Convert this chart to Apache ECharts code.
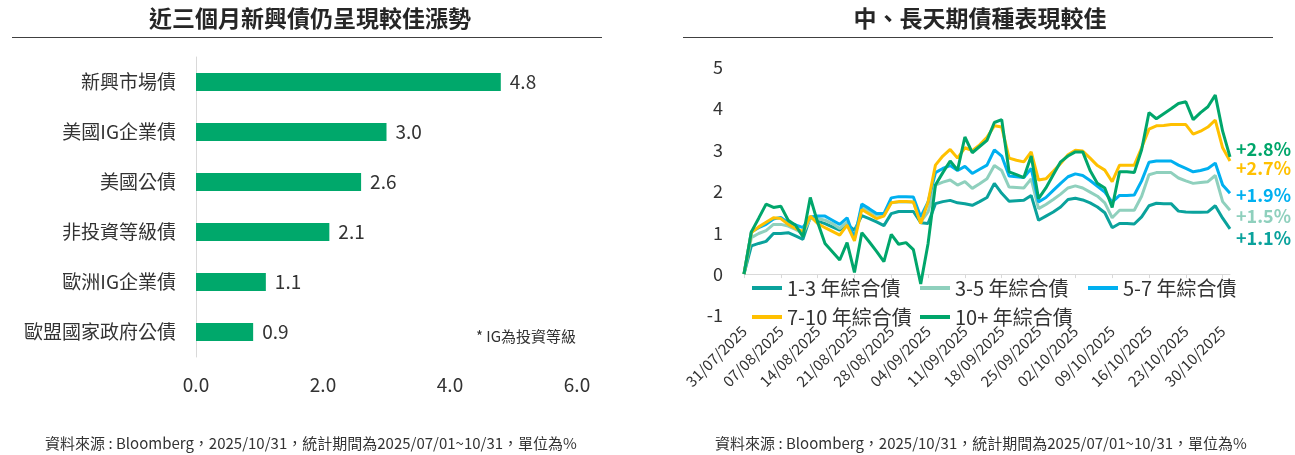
<!DOCTYPE html>
<html>
<head>
<meta charset="utf-8">
<style>
html, body { margin: 0; padding: 0; background: #fff; }
#main { width: 1295px; height: 455px; }
</style>
<script src="https://cdn.jsdelivr.net/npm/echarts@6/dist/echarts.min.js"></script>
</head>
<body>
<div id="main"></div>
<script>
// left chart: 3-month returns by bond type (%)
var barCats = ['新興市場債', '美國IG企業債', '美國公債', '非投資等級債', '歐洲IG企業債', '歐盟國家政府公債'];
var barVals = [4.8, 3.0, 2.6, 2.1, 1.1, 0.9];

// right chart: cumulative return by maturity (%)
var dates = [
  '31/07/2025',
  '01/08/2025', '04/08/2025', '05/08/2025', '06/08/2025', '07/08/2025', '08/08/2025', '11/08/2025', '12/08/2025',
  '13/08/2025', '14/08/2025', '15/08/2025', '18/08/2025', '19/08/2025', '20/08/2025', '21/08/2025', '22/08/2025',
  '25/08/2025', '26/08/2025', '27/08/2025', '28/08/2025', '29/08/2025',
  '01/09/2025', '02/09/2025', '03/09/2025', '04/09/2025', '05/09/2025', '08/09/2025', '09/09/2025', '10/09/2025',
  '11/09/2025', '12/09/2025', '15/09/2025', '16/09/2025', '17/09/2025', '18/09/2025', '19/09/2025', '22/09/2025',
  '23/09/2025', '24/09/2025', '25/09/2025', '26/09/2025', '29/09/2025', '30/09/2025',
  '01/10/2025', '02/10/2025', '03/10/2025', '06/10/2025', '07/10/2025', '08/10/2025', '09/10/2025', '10/10/2025',
  '13/10/2025', '14/10/2025', '15/10/2025', '16/10/2025', '17/10/2025', '20/10/2025', '21/10/2025', '22/10/2025',
  '23/10/2025', '24/10/2025', '27/10/2025', '28/10/2025', '29/10/2025', '30/10/2025', '31/10/2025'
];
var lineNames = ['1-3 年綜合債', '3-5 年綜合債', '5-7 年綜合債', '7-10 年綜合債', '10+ 年綜合債'];
var y1to3 = [0, 0.68, 0.74, 0.79, 0.98, 0.98, 1.00, 0.92, 0.84, 1.38, 1.28, 1.22, 1.14, 1.06, 1.20, 1.06, 1.41,
  1.34, 1.26, 1.17, 1.46, 1.51, 1.51, 1.51, 1.24, 1.22, 1.70, 1.75, 1.78, 1.72, 1.70, 1.66, 1.75, 1.85, 2.19,
  1.95, 1.76, 1.77, 1.78, 1.90, 1.30, 1.40, 1.50, 1.62, 1.80, 1.83, 1.79, 1.72, 1.62, 1.48, 1.12, 1.22, 1.22,
  1.21, 1.38, 1.65, 1.71, 1.70, 1.70, 1.52, 1.50, 1.49, 1.49, 1.50, 1.65, 1.35, 1.09];
var y3to5 = [0, 0.88, 0.98, 1.05, 1.20, 1.20, 1.16, 1.08, 0.98, 1.34, 1.34, 1.30, 1.22, 1.10, 1.26, 0.90, 1.62,
  1.52, 1.42, 1.42, 1.72, 1.74, 1.74, 1.74, 1.26, 1.50, 2.15, 2.22, 2.27, 2.15, 2.23, 2.07, 2.18, 2.30, 2.62,
  2.50, 2.10, 2.09, 2.08, 2.30, 1.58, 1.68, 1.80, 1.93, 2.08, 2.13, 2.08, 1.98, 1.88, 1.72, 1.36, 1.54, 1.54,
  1.54, 1.88, 2.40, 2.45, 2.45, 2.45, 2.32, 2.25, 2.19, 2.21, 2.23, 2.38, 1.75, 1.54];
var y5to7 = [0, 1.02, 1.12, 1.20, 1.33, 1.37, 1.24, 1.19, 1.12, 1.38, 1.40, 1.40, 1.30, 1.20, 1.36, 0.86, 1.69,
  1.58, 1.46, 1.46, 1.84, 1.87, 1.87, 1.86, 1.38, 1.74, 2.45, 2.55, 2.62, 2.50, 2.60, 2.43, 2.53, 2.63, 3.00,
  2.85, 2.37, 2.35, 2.33, 2.55, 1.74, 1.85, 2.02, 2.19, 2.35, 2.42, 2.38, 2.26, 2.12, 1.98, 1.74, 1.90, 1.90,
  1.91, 2.25, 2.70, 2.73, 2.73, 2.73, 2.63, 2.55, 2.47, 2.50, 2.55, 2.68, 2.15, 1.95];
var y7to10 = [0, 1.00, 1.14, 1.25, 1.36, 1.34, 1.20, 1.10, 1.03, 1.40, 1.22, 1.12, 1.03, 0.94, 1.18, 0.80, 1.56,
  1.45, 1.34, 1.40, 1.72, 1.75, 1.75, 1.74, 1.22, 1.74, 2.63, 2.85, 3.01, 2.80, 3.05, 2.98, 3.12, 3.30, 3.58,
  3.55, 2.80, 2.75, 2.71, 2.95, 2.27, 2.30, 2.48, 2.67, 2.88, 2.99, 2.97, 2.80, 2.62, 2.51, 2.23, 2.63, 2.63,
  2.63, 3.05, 3.50, 3.58, 3.59, 3.61, 3.61, 3.61, 3.38, 3.45, 3.55, 3.72, 3.05, 2.73];
var y10plus = [0, 1.02, 1.35, 1.69, 1.61, 1.64, 1.30, 1.18, 0.90, 1.85, 1.25, 0.74, 0.54, 0.34, 0.76, 0.04, 1.00,
  0.78, 0.55, 0.30, 0.96, 0.72, 0.76, 0.59, -0.24, 0.74, 2.15, 2.45, 2.73, 2.51, 3.31, 2.93, 3.08, 3.23, 3.66,
  3.73, 2.47, 2.40, 2.33, 2.85, 1.82, 2.08, 2.40, 2.71, 2.85, 2.95, 2.95, 2.50, 2.19, 2.08, 1.61, 2.47, 2.47,
  2.45, 3.00, 3.90, 3.75, 3.87, 3.99, 4.12, 4.16, 3.73, 3.90, 4.04, 4.32, 3.45, 2.83];
var endTexts = ['+1.1%', '+1.5%', '+1.9%', '+2.7%', '+2.8%'];

var font = '"Noto Sans CJK TC", "Noto Sans", sans-serif';
var textCol = '#333333';
var lineColors = ['#0AA29C', '#8FD0BD', '#00B0F0', '#FFC000', '#00A66B'];
var endOffsets = [9, 6, 2, 7, -8];

var chart = echarts.init(document.getElementById('main'));

var lineData = [y1to3, y3to5, y5to7, y7to10, y10plus];
var lineSeries = lineData.map(function (d, i) {
  return {
    name: lineNames[i],
    type: 'line',
    xAxisIndex: 1,
    yAxisIndex: 1,
    data: d,
    showSymbol: false,
    symbol: 'none',
    lineStyle: { width: 3, color: lineColors[i] },
    itemStyle: { color: lineColors[i] },
    endLabel: {
      show: true,
      formatter: endTexts[i],
      color: lineColors[i],
      fontSize: 18,
      fontWeight: 'bold',
      fontFamily: font,
      distance: 6,
      offset: [0, endOffsets[i]]
    },
    emphasis: { disabled: true }
  };
});

var option = {
  animation: false,
  textStyle: { fontFamily: font },
  grid: [
    { left: 196, top: 57, width: 381, height: 300, containLabel: false, outerBoundsMode: 'none' },
    { left: 744, top: 67, width: 486, height: 248.5, containLabel: false, outerBoundsMode: 'none' }
  ],
  legend: {
    data: lineNames,
    left: 752,
    top: 275.5,
    width: 510,
    padding: 0,
    icon: 'rect',
    itemWidth: 30,
    itemHeight: 4,
    itemGap: 4,
    textStyle: { fontSize: 20, color: textCol, width: 129, lineHeight: 25, fontFamily: font },
    selectedMode: false
  },
  xAxis: [
    {
      gridIndex: 0, type: 'value', min: 0, max: 6, interval: 2,
      axisLine: { show: false }, axisTick: { show: false }, splitLine: { show: false },
      axisLabel: { fontSize: 19, color: textCol, margin: 18, formatter: function (v) { return v.toFixed(1); } }
    },
    {
      gridIndex: 1, type: 'category', data: dates, boundaryGap: false,
      axisLine: { show: true, onZero: true, lineStyle: { color: '#d9d9d9', width: 1 } },
      axisTick: { show: true, interval: 4, length: 4, lineStyle: { color: '#d9d9d9' } },
      axisLabel: { show: false }
    },
    {
      gridIndex: 1, type: 'category', data: dates, boundaryGap: false, position: 'bottom',
      axisLine: { show: false, onZero: false }, axisTick: { show: false },
      axisLabel: { interval: 4, rotate: 45, fontSize: 15, color: textCol, margin: 13 }
    }
  ],
  yAxis: [
    {
      gridIndex: 0, type: 'category', data: barCats, inverse: true,
      axisLine: { show: true, lineStyle: { color: '#d9d9d9' } }, axisTick: { show: false },
      axisLabel: { fontSize: 19, color: textCol, margin: 20 }
    },
    {
      gridIndex: 1, type: 'value', min: -1, max: 5, interval: 1,
      axisLine: { show: false }, axisTick: { show: false }, splitLine: { show: false },
      axisLabel: { fontSize: 18, color: textCol, margin: 21 }
    }
  ],
  graphic: [
    { type: 'text', x: 310, y: 18, style: { text: '近三個月新興債仍呈現較佳漲勢', fill: '#262626', font: 'bold 23px ' + font, textAlign: 'center', textVerticalAlign: 'middle' } },
    { type: 'line', shape: { x1: 12, y1: 37.5, x2: 602, y2: 37.5 }, style: { stroke: '#404040', lineWidth: 1 } },
    { type: 'text', x: 980, y: 18, style: { text: '中、長天期債種表現較佳', fill: '#262626', font: 'bold 23px ' + font, textAlign: 'center', textVerticalAlign: 'middle' } },
    { type: 'line', shape: { x1: 683, y1: 37.5, x2: 1273, y2: 37.5 }, style: { stroke: '#404040', lineWidth: 1 } },
    { type: 'text', x: 476, y: 336, style: { text: '* IG為投資等級', fill: textCol, font: '15px ' + font, textAlign: 'left', textVerticalAlign: 'middle' } },
    { type: 'text', x: 311, y: 443, style: { text: '資料來源 : Bloomberg，2025/10/31，統計期間為2025/07/01~10/31，單位為%', fill: textCol, font: '15px ' + font, textAlign: 'center', textVerticalAlign: 'middle' } },
    { type: 'text', x: 981, y: 443, style: { text: '資料來源 : Bloomberg，2025/10/31，統計期間為2025/07/01~10/31，單位為%', fill: textCol, font: '15px ' + font, textAlign: 'center', textVerticalAlign: 'middle' } }
  ],
  series: [
    {
      type: 'bar',
      xAxisIndex: 0,
      yAxisIndex: 0,
      data: barVals,
      barWidth: 18,
      itemStyle: { color: '#00A86B' },
      label: {
        show: true, position: 'right', distance: 9, fontSize: 19, color: textCol,
        formatter: function (p) { return p.value.toFixed(1); }
      },
      emphasis: { disabled: true }
    }
  ].concat(lineSeries)
};

chart.setOption(option);
</script>
</body>
</html>
